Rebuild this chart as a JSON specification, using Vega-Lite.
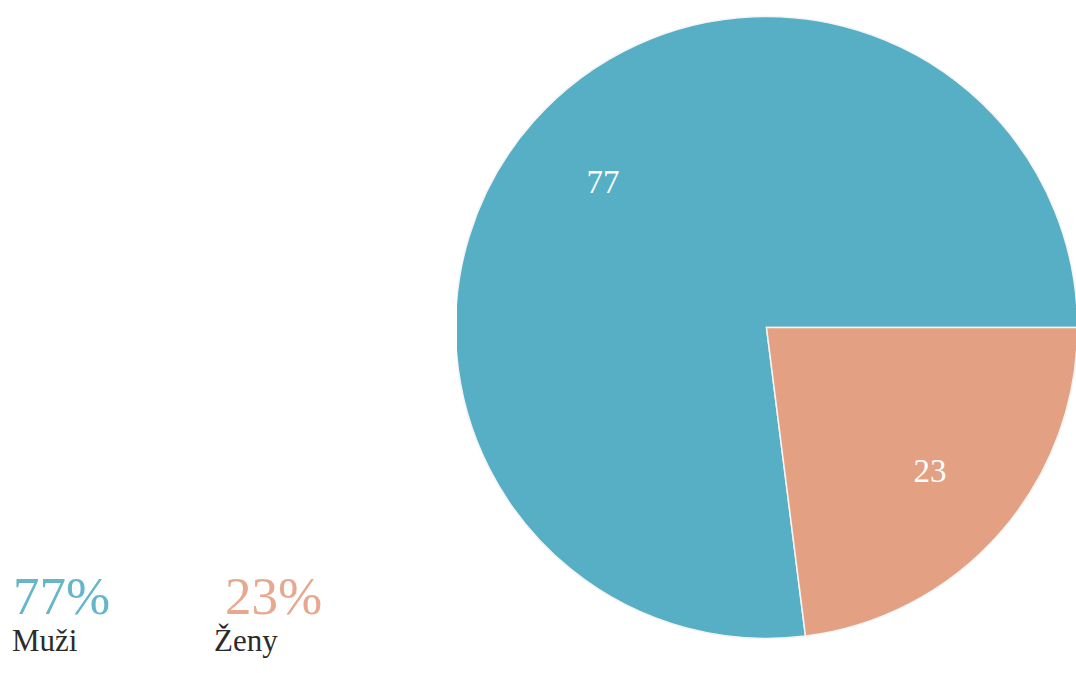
{
  "$schema": "https://vega.github.io/schema/vega-lite/v6.json",
  "padding": 0,
  "spacing": 0,
  "background": "white",
  "config": {"view": {"stroke": null}, "font": "Liberation Serif", "concat": {"spacing": 0}},
  "data": {"values": [
    {"name": "Muži", "value": 77, "percent": "77%", "order": 2},
    {"name": "Ženy", "value": 23, "percent": "23%", "order": 1}
  ]},
  "hconcat": [
    {
      "width": 457,
      "height": 673,
      "layer": [
        {
          "mark": {"type": "text", "align": "left", "baseline": "alphabetic", "fontSize": 53, "font": "Liberation Serif", "opacity": 0.9},
          "encoding": {
            "x": {"field": "name", "type": "nominal", "scale": {"type": "point", "padding": 0, "domain": ["Muži", "Ženy"], "range": [13, 225]}, "axis": null},
            "y": {"datum": "pct", "type": "nominal", "scale": {"type": "point", "padding": 0, "domain": ["pct", "name"], "range": [614, 651]}, "axis": null},
            "color": {"field": "name", "type": "nominal", "scale": {"domain": ["Muži", "Ženy"], "range": ["#56AFC4", "#E4A083"]}, "legend": null},
            "text": {"field": "percent", "type": "nominal"}
          }
        },
        {
          "mark": {"type": "text", "align": "left", "baseline": "alphabetic", "fontSize": 31, "font": "Liberation Serif", "color": "#2b2b2b"},
          "encoding": {
            "x": {"field": "name", "type": "nominal", "scale": {"type": "point", "padding": 0, "domain": ["Muži", "Ženy"], "range": [12, 214]}, "axis": null},
            "y": {"datum": "name", "type": "nominal", "axis": null},
            "text": {"field": "name", "type": "nominal"}
          }
        }
      ],
      "resolve": {"scale": {"x": "independent"}}
    },
    {
      "width": 619,
      "height": 655,
      "encoding": {
        "theta": {"field": "value", "type": "quantitative", "stack": true, "scale": {"range": [1.5707963, 7.8539816]}},
        "order": {"field": "order", "type": "quantitative"}
      },
      "layer": [
        {
          "mark": {"type": "arc", "outerRadius": 311, "stroke": "#f4f4f4", "strokeWidth": 1.5, "clip": true},
          "encoding": {
            "color": {"field": "name", "type": "nominal", "legend": null}
          }
        },
        {
          "mark": {"type": "text", "radius": 218, "fill": "white", "fontSize": 33, "font": "Liberation Serif", "baseline": "middle", "align": "center"},
          "encoding": {
            "text": {"field": "value", "type": "quantitative"}
          }
        }
      ]
    }
  ]
}
